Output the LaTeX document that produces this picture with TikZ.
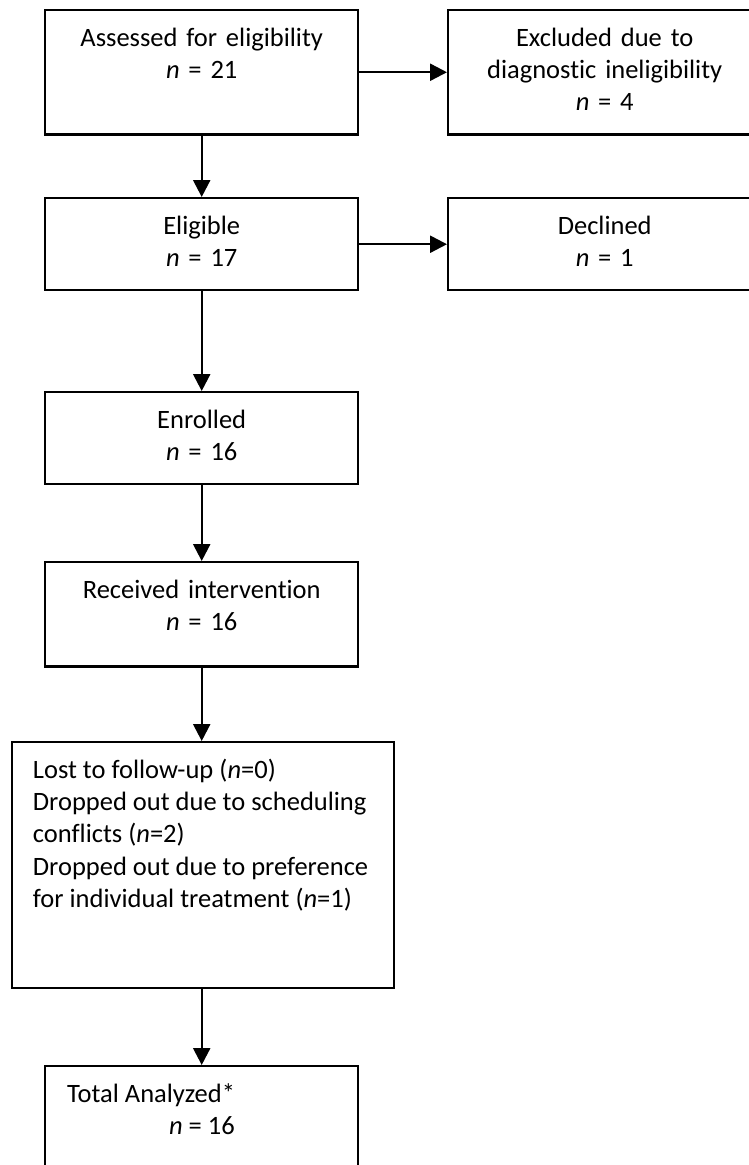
\documentclass[tikz,border=0pt]{standalone}
\usepackage{fontspec}
\setmainfont{Carlito}[Ligatures=NoCommon]
\usetikzlibrary{arrows.meta}
\tikzset{
  box/.style={draw, line width=1pt, inner sep=0pt, text width=129.9pt, align=center,
    text height=15pt, anchor=north west, font=\fontsize{11}{13.4}\selectfont},
  flow/.style={-{Triangle[length=7pt,width=7pt]}, line width=1pt}
}

\begin{document}
\begin{tikzpicture}[x=0.415pt, y=-0.415pt]
  \useasboundingbox (0,0) rectangle (748,1165);

  \node [box, text depth=36.5pt] (assessed) at (44,9) {Assessed for eligibility\\ \textit{n} = 21};
  \node [box, text depth=36.5pt] (excluded) at (447,9) {Excluded due to\\ diagnostic ineligibility\\ \textit{n} = 4};

  \node [box, text depth=23.2pt] (eligible) at (44,197) {Eligible\\ \textit{n} = 17};
  \node [box, text depth=23.2pt] (declined) at (447,197) {Declined\\ \textit{n} = 1};

  \node [box, text depth=23.2pt] (enrolled) at (44,391) {Enrolled\\ \textit{n} = 16};
  \node [box, text depth=28.2pt] (received) at (44,561) {Received intervention\\ \textit{n} = 16};

  % drop-outs
  \node [box, text depth=87.1pt, inner xsep=8.6pt, text width=141.3pt, align=flush left]
    (lost) at (11,741) {Lost to follow-up (\textit{n}=0)\\ Dropped out due to scheduling\\
    conflicts (\textit{n}=2)\\ Dropped out due to preference\\ for individual treatment (\textit{n}=1)};

  \node [box, text depth=39pt, inner xsep=9.1pt, text width=111.7pt, align=flush left]
    (total) at (44,1065) {Total Analyzed*\\ \hspace*{42.3pt}\textit{n} = 16};

  \draw [flow] (assessed) -- (excluded);
  \draw [flow] (eligible) -- (declined);

  \draw [flow] (assessed) -- (eligible);
  \draw [flow] (eligible) -- (enrolled);
  \draw [flow] (enrolled) -- (received);
  \draw [flow] (received.south) -- (received.south |- lost.north);
  \draw [flow] (lost.south -| total.north) -- (total.north);
\end{tikzpicture}
\end{document}
